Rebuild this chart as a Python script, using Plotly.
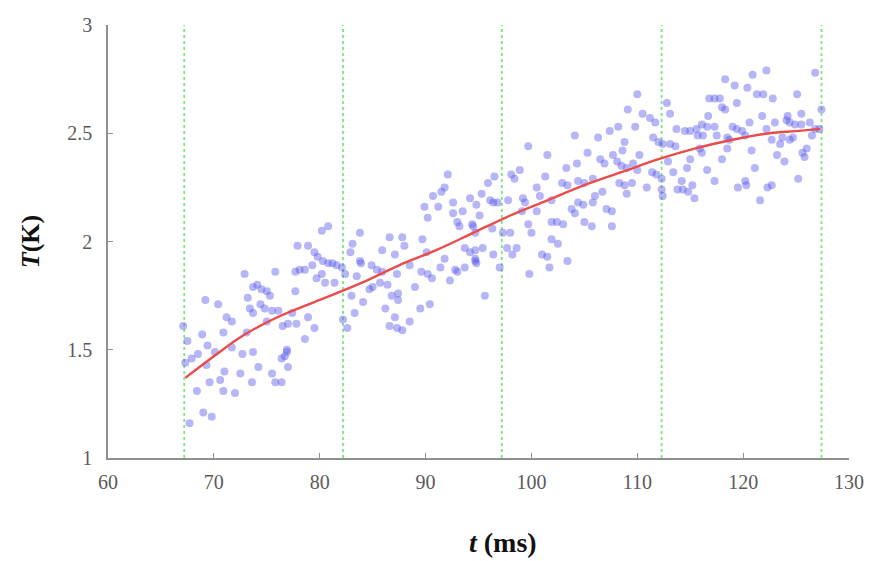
import plotly.graph_objects as go

# Measured samples: time (ms) and temperature (K)
t_ms = [
    72.9, 69.2, 70.4, 73.2, 73.7, 71.2, 71.7, 67.1, 68.9, 70.9, 67.5, 69.4, 70.1, 71.7, 72.7,
    67.3, 67.9, 68.5, 69.3, 73.7, 71.0, 72.5, 69.6, 70.6, 68.4, 70.9, 72.0, 73.6, 69.0, 69.8, 67.7,
    80.2, 80.8, 77.9, 78.9, 79.5, 79.8, 80.3, 75.8, 77.7, 78.1, 78.6, 79.3, 79.7, 80.5, 74.1,
    74.5, 75.0, 75.3, 77.7, 74.4, 74.8, 75.5, 76.1, 73.4, 73.7, 77.4, 78.9, 75.0, 76.5, 77.0,
    77.8, 79.5, 73.1, 78.6, 76.9, 76.9, 76.4, 76.7, 74.2, 77.0, 75.5, 75.8, 76.4,
    83.8, 83.1, 86.6, 87.8, 85.9, 82.9, 87.1, 83.8, 83.9, 80.8, 81.2, 81.6, 82.1, 84.9, 85.4,
    85.9, 82.4, 80.2, 81.4, 83.5, 85.7, 86.4, 84.7, 85.0, 83.0, 84.1, 86.8, 87.4, 83.3, 86.2,
    82.2, 82.6, 87.1, 86.6, 87.3, 87.8,
    92.1, 91.8, 91.5, 90.7, 89.9, 91.2, 92.6, 94.2, 94.8, 90.2, 92.6, 93.5, 93.0, 93.2, 94.5,
    88.0, 89.7, 90.1, 91.8, 93.7, 94.2, 94.7, 94.7, 88.5, 89.6, 90.2, 90.6, 91.4, 92.8, 93.0,
    93.7, 92.3, 87.3, 89.0, 87.4, 89.5, 90.4, 88.5,
    99.7, 101.5, 98.9, 98.1, 98.4, 96.5, 95.9, 101.3, 100.5, 100.8, 95.3, 96.1, 96.4, 96.8,
    95.1, 97.8, 99.2, 99.4, 100.5, 99.1, 101.9, 94.4, 94.7, 96.3, 97.3, 98.0, 99.7, 100.0,
    101.9, 101.9, 95.4, 94.7, 94.8, 96.4, 97.7, 98.6, 98.2, 101.0, 101.5, 101.7, 97.0, 99.8, 95.6,
    109.1, 108.2, 107.4, 106.3, 104.1, 108.8, 105.3, 104.3, 103.3, 106.5, 106.9, 107.7, 108.1,
    108.6, 102.9, 103.4, 104.4, 105.0, 105.8, 108.3, 108.8, 109.0, 106.7, 106.0, 105.8, 104.4,
    104.9, 103.8, 104.1, 107.1, 107.6, 102.4, 103.0, 105.0, 105.7, 107.6, 102.5, 103.4,
    110.0, 112.8, 113.1, 110.5, 111.2, 111.7, 109.8, 113.7, 114.5, 115.0, 115.7, 111.5, 112.0,
    112.4, 113.1, 113.6, 110.2, 112.9, 115.0, 116.1, 109.6, 110.0, 108.5, 109.0, 111.4, 111.8,
    112.3, 113.4, 114.7, 114.2, 109.5, 110.9, 112.3, 112.4, 113.8, 114.3, 114.8, 115.2, 115.4,
    122.2, 120.9, 118.3, 119.2, 120.4, 121.3, 121.9, 122.8, 116.8, 117.3, 117.8, 119.4, 118.0,
    118.3, 116.7, 121.8, 116.6, 116.1, 115.6, 117.3, 117.5, 120.6, 123.0, 122.2, 119.0, 119.4,
    119.9, 120.2, 116.2, 118.5, 118.7, 122.7, 115.9, 118.5, 120.8, 123.2, 118.0, 121.1, 116.6,
    117.3, 120.2, 120.3, 119.5, 122.3, 121.6,
    126.8, 125.1, 127.4, 125.5, 124.2, 124.1, 124.4, 124.9, 125.5, 126.3, 126.8, 127.2, 123.7,
    124.7, 123.5, 124.4, 126.5, 126.0, 125.6, 125.8, 123.9, 125.2, 122.7,
]
T_k = [
    1.85, 1.73, 1.71, 1.74, 1.79, 1.65, 1.63, 1.61, 1.57, 1.58, 1.54, 1.52, 1.49, 1.51, 1.48,
    1.44, 1.46, 1.48, 1.43, 1.49, 1.40, 1.39, 1.35, 1.36, 1.31, 1.31, 1.30, 1.35, 1.21, 1.19, 1.16,
    2.05, 2.07, 1.98, 1.98, 1.95, 1.93, 1.91, 1.86, 1.86, 1.87, 1.87, 1.89, 1.83, 1.81, 1.80,
    1.78, 1.77, 1.75, 1.77, 1.71, 1.69, 1.68, 1.68, 1.69, 1.67, 1.67, 1.65, 1.63, 1.61, 1.62,
    1.62, 1.60, 1.58, 1.55, 1.50, 1.49, 1.46, 1.47, 1.42, 1.42, 1.39, 1.35, 1.35,
    2.04, 1.99, 2.02, 2.02, 1.96, 1.95, 1.94, 1.91, 1.90, 1.90, 1.90, 1.89, 1.88, 1.89, 1.87,
    1.86, 1.85, 1.85, 1.81, 1.84, 1.81, 1.80, 1.78, 1.79, 1.75, 1.72, 1.75, 1.73, 1.67, 1.69,
    1.64, 1.60, 1.65, 1.61, 1.60, 1.59,
    2.31, 2.25, 2.23, 2.21, 2.16, 2.16, 2.18, 2.20, 2.17, 2.11, 2.13, 2.14, 2.09, 2.07, 2.07,
    1.98, 2.01, 1.95, 1.92, 1.97, 1.95, 1.96, 1.91, 1.89, 1.86, 1.85, 1.83, 1.88, 1.87, 1.86,
    1.88, 1.82, 1.85, 1.79, 1.76, 1.69, 1.71, 1.63,
    2.44, 2.40, 2.33, 2.31, 2.29, 2.30, 2.27, 2.30, 2.25, 2.21, 2.22, 2.19, 2.18, 2.18,
    2.12, 2.19, 2.20, 2.18, 2.14, 2.14, 2.19, 2.08, 2.04, 2.06, 2.04, 2.04, 2.08, 2.04,
    2.09, 2.01, 1.97, 1.92, 1.90, 1.94, 1.97, 1.97, 1.94, 1.94, 1.93, 1.88, 1.88, 1.85, 1.75,
    2.61, 2.53, 2.51, 2.48, 2.49, 2.46, 2.41, 2.36, 2.34, 2.38, 2.36, 2.40, 2.37,
    2.42, 2.27, 2.26, 2.28, 2.27, 2.29, 2.27, 2.26, 2.22, 2.23, 2.21, 2.18, 2.18,
    2.17, 2.15, 2.13, 2.15, 2.14, 2.09, 2.08, 2.09, 2.07, 2.07, 1.99, 1.91,
    2.68, 2.64, 2.59, 2.59, 2.57, 2.55, 2.53, 2.52, 2.51, 2.51, 2.49, 2.48, 2.46,
    2.45, 2.45, 2.44, 2.40, 2.37, 2.38, 2.41, 2.36, 2.33, 2.35, 2.34, 2.32, 2.31,
    2.29, 2.32, 2.34, 2.28, 2.27, 2.25, 2.24, 2.21, 2.24, 2.24, 2.23, 2.26, 2.20,
    2.79, 2.77, 2.75, 2.72, 2.71, 2.68, 2.68, 2.66, 2.66, 2.66, 2.66, 2.64, 2.62,
    2.61, 2.58, 2.58, 2.53, 2.54, 2.52, 2.53, 2.49, 2.55, 2.55, 2.52, 2.53, 2.52,
    2.51, 2.49, 2.49, 2.48, 2.47, 2.47, 2.43, 2.43, 2.42, 2.40, 2.38, 2.34, 2.33,
    2.28, 2.28, 2.26, 2.25, 2.25, 2.19,
    2.78, 2.68, 2.61, 2.59, 2.58, 2.56, 2.55, 2.54, 2.54, 2.55, 2.52, 2.52, 2.48,
    2.48, 2.45, 2.47, 2.49, 2.43, 2.41, 2.39, 2.37, 2.29, 2.26,
]

# Fitted trend curve
fit_t = [67.3, 70.0, 72.9, 76.0, 80.0, 84.0, 87.5, 91.0, 94.5, 98.0, 101.5, 105.0, 108.5,
         112.0, 115.5, 119.0, 122.5, 125.0, 127.3]
fit_T = [1.37, 1.47, 1.57, 1.65, 1.73, 1.81, 1.89, 1.96, 2.04, 2.12, 2.19, 2.26, 2.32,
         2.38, 2.43, 2.47, 2.50, 2.51, 2.52]

# Segment boundaries (ms)
segment_t = [67.2, 82.2, 97.2, 112.3, 127.4]

x_ticks = [60, 70, 80, 90, 100, 110, 120, 130]
y_ticks = [1, 1.5, 2, 2.5, 3]
y_tick_text = ["1", "1.5", "2", "2.5", "3"]

SERIF = "Liberation Serif, Times New Roman, serif"

fig = go.Figure()

for xs in segment_t:
    fig.add_trace(go.Scatter(
        x=[xs, xs], y=[1, 3], mode="lines",
        line=dict(color="rgba(120,225,120,0.95)", width=1.8, dash="dot"),
        hoverinfo="skip", showlegend=False,
    ))

fig.add_trace(go.Scatter(
    x=t_ms, y=T_k, mode="markers",
    marker=dict(size=8, color="rgba(80,80,235,0.42)", line=dict(width=0)),
    showlegend=False,
))

fig.add_trace(go.Scatter(
    x=fit_t, y=fit_T, mode="lines", line_shape="spline",
    line=dict(color="rgb(235,75,75)", width=2.4),
    showlegend=False,
))

axis_font = dict(family=SERIF, size=20, color="#5a5a5a")

fig.update_layout(
    width=876, height=561,
    margin=dict(l=108, r=27, t=25, b=103),
    paper_bgcolor="white", plot_bgcolor="white",
    xaxis=dict(
        range=[60, 130], tickvals=x_ticks, ticks="inside", ticklen=5, tickcolor="#909090",
        showline=True, linecolor="#909090", linewidth=1.5, showgrid=False, zeroline=False,
        tickfont=axis_font, ticklabelstandoff=5,
    ),
    yaxis=dict(
        range=[1, 3], tickvals=y_ticks, ticktext=y_tick_text, ticks="inside", ticklen=5,
        tickcolor="#909090", showline=True, linecolor="#909090", linewidth=1.5,
        showgrid=False, zeroline=False, tickfont=axis_font, ticklabelstandoff=10,
        title=dict(text="<b><i>T</i>(K)</b>", standoff=20,
                   font=dict(family=SERIF, size=26, color="#111")),
    ),
    annotations=[dict(
        text="<b><i>t</i> (ms)</b>", xref="paper", yref="paper",
        x=0.533, y=-0.196, xanchor="center", yanchor="middle", showarrow=False,
        font=dict(family=SERIF, size=28, color="#111"),
    )],
)

fig.write_html("out.html")
